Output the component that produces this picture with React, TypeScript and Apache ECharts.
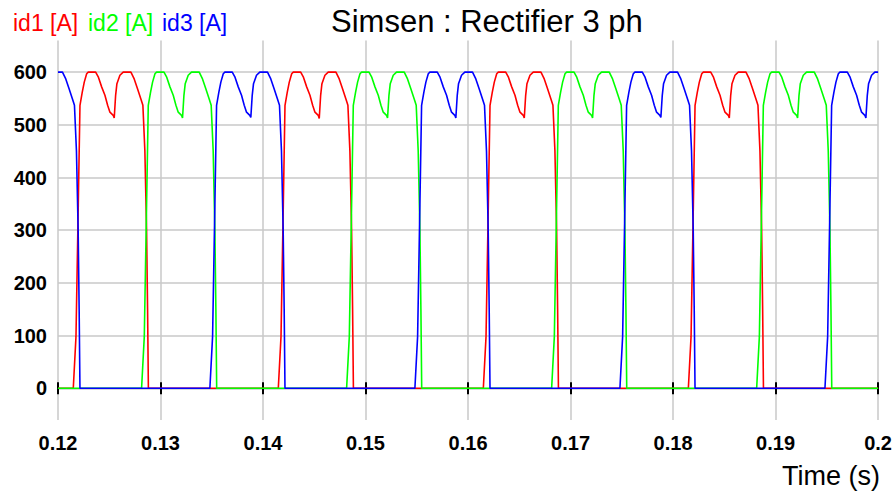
import { useEffect, useRef } from "react";
import * as echarts from "echarts";

const chartTitle = "Simsen : Rectifier 3 ph";
const xAxisName = "Time (s)";
const seriesNames = ["id1 [A]", "id2 [A]", "id3 [A]"];
const seriesColors = ["#ff0000", "#00ff00", "#0000ff"];
const yTickValues = [0, 100, 200, 300, 400, 500, 600];

// [time (s), current (A)]
const id1: number[][] = [
  [0.12, 0],
  [0.121491, 0], [0.121754, 98], [0.121978, 348], [0.122143, 537], [0.122367, 562], [0.122562, 581], [0.122796, 597], [0.122952, 600], [0.123673, 600], [0.123926, 591], [0.124257, 572], [0.124578, 556], [0.124841, 537], [0.125066, 524], [0.125387, 518], [0.125484, 513], [0.125621, 556], [0.125747, 578], [0.12604, 594], [0.126361, 600], [0.127111, 600], [0.127433, 587], [0.127764, 568], [0.128085, 549], [0.12828, 537], [0.128475, 450], [0.128641, 300], [0.128738, 150], [0.128816, 0],
  [0.141491, 0], [0.141754, 98], [0.141978, 348], [0.142143, 537], [0.142367, 562], [0.142562, 581], [0.142796, 597], [0.142952, 600], [0.143673, 600], [0.143926, 591], [0.144257, 572], [0.144578, 556], [0.144841, 537], [0.145066, 524], [0.145387, 518], [0.145484, 512], [0.145621, 556], [0.145747, 578], [0.14604, 594], [0.146361, 600], [0.147111, 600], [0.147433, 587], [0.147764, 568], [0.148085, 549], [0.14828, 537], [0.148475, 450], [0.148641, 300], [0.148738, 150], [0.148816, 0],
  [0.161491, 0], [0.161754, 98], [0.161978, 348], [0.162143, 537], [0.162367, 562], [0.162562, 581], [0.162796, 597], [0.162952, 600], [0.163673, 600], [0.163926, 591], [0.164257, 572], [0.164578, 556], [0.164841, 537], [0.165066, 524], [0.165387, 518], [0.165484, 513], [0.165621, 556], [0.165747, 578], [0.16604, 594], [0.166361, 600], [0.167111, 600], [0.167433, 587], [0.167764, 568], [0.168085, 549], [0.16828, 537], [0.168475, 450], [0.168641, 300], [0.168738, 150], [0.168816, 0],
  [0.181491, 0], [0.181754, 98], [0.181978, 348], [0.182143, 537], [0.182367, 562], [0.182562, 581], [0.182796, 597], [0.182952, 600], [0.183673, 600], [0.183926, 591], [0.184257, 572], [0.184578, 556], [0.184841, 537], [0.185066, 524], [0.185387, 518], [0.185484, 513], [0.185621, 556], [0.185747, 578], [0.18604, 594], [0.186361, 600], [0.187111, 600], [0.187433, 587], [0.187764, 568], [0.188085, 549], [0.18828, 537], [0.188475, 450], [0.188641, 300], [0.188738, 150], [0.188816, 0],
  [0.2, 0],
];

const id2: number[][] = [
  [0.12, 0],
  [0.128154, 0], [0.128417, 98], [0.128641, 348], [0.128806, 537], [0.12903, 562], [0.129225, 581], [0.129459, 597], [0.129615, 600], [0.130336, 600], [0.130589, 591], [0.13092, 572], [0.131241, 556], [0.131504, 537], [0.131729, 524], [0.13205, 518], [0.132147, 513], [0.132284, 556], [0.13241, 578], [0.132703, 594], [0.133024, 600], [0.133774, 600], [0.134096, 587], [0.134427, 568], [0.134748, 549], [0.134943, 537], [0.135138, 450], [0.135304, 300], [0.135401, 150], [0.135479, 0],
  [0.148154, 0], [0.148417, 98], [0.148641, 348], [0.148806, 537], [0.14903, 562], [0.149225, 581], [0.149459, 597], [0.149615, 600], [0.150336, 600], [0.150589, 591], [0.15092, 572], [0.151241, 556], [0.151504, 537], [0.151729, 524], [0.15205, 518], [0.152147, 513], [0.152284, 556], [0.15241, 578], [0.152703, 594], [0.153024, 600], [0.153774, 600], [0.154096, 587], [0.154427, 568], [0.154748, 549], [0.154943, 537], [0.155138, 450], [0.155304, 300], [0.155401, 150], [0.155479, 0],
  [0.168154, 0], [0.168417, 98], [0.168641, 348], [0.168806, 537], [0.16903, 562], [0.169225, 581], [0.169459, 597], [0.169615, 600], [0.170336, 600], [0.170589, 591], [0.17092, 572], [0.171241, 556], [0.171504, 537], [0.171729, 524], [0.17205, 518], [0.172147, 513], [0.172284, 556], [0.17241, 578], [0.172703, 594], [0.173024, 600], [0.173774, 600], [0.174096, 587], [0.174427, 568], [0.174748, 549], [0.174943, 537], [0.175138, 450], [0.175304, 300], [0.175401, 150], [0.175479, 0],
  [0.188154, 0], [0.188417, 98], [0.188641, 348], [0.188806, 537], [0.18903, 562], [0.189225, 581], [0.189459, 597], [0.189615, 600], [0.190336, 600], [0.190589, 591], [0.19092, 572], [0.191241, 556], [0.191504, 537], [0.191729, 524], [0.19205, 518], [0.192147, 513], [0.192284, 556], [0.19241, 578], [0.192703, 594], [0.193024, 600], [0.193774, 600], [0.194096, 587], [0.194427, 568], [0.194748, 549], [0.194943, 537], [0.195138, 450], [0.195304, 300], [0.195401, 150], [0.195479, 0],
  [0.2, 0],
];

const id3: number[][] = [
  [0.12, 600], [0.120436, 600], [0.120758, 587], [0.121089, 568], [0.12141, 549], [0.121605, 537], [0.1218, 450], [0.121966, 300], [0.122063, 150], [0.122141, 0],
  [0.134816, 0], [0.135079, 98], [0.135303, 348], [0.135468, 537], [0.135692, 562], [0.135887, 581], [0.136121, 597], [0.136277, 600], [0.136998, 600], [0.137251, 591], [0.137582, 572], [0.137903, 556], [0.138166, 537], [0.138391, 524], [0.138712, 518], [0.138809, 514], [0.138946, 556], [0.139072, 578], [0.139365, 594], [0.139686, 600], [0.140436, 600], [0.140758, 587], [0.141089, 568], [0.14141, 549], [0.141605, 537], [0.1418, 450], [0.141966, 300], [0.142063, 150], [0.142141, 0],
  [0.154816, 0], [0.155079, 98], [0.155303, 348], [0.155468, 537], [0.155692, 562], [0.155887, 581], [0.156121, 597], [0.156277, 600], [0.156998, 600], [0.157251, 591], [0.157582, 572], [0.157903, 556], [0.158166, 537], [0.158391, 524], [0.158712, 518], [0.158809, 513], [0.158946, 556], [0.159072, 578], [0.159365, 594], [0.159686, 600], [0.160436, 600], [0.160758, 587], [0.161089, 568], [0.16141, 549], [0.161605, 537], [0.1618, 450], [0.161966, 300], [0.162063, 150], [0.162141, 0],
  [0.174816, 0], [0.175079, 98], [0.175303, 348], [0.175468, 537], [0.175692, 562], [0.175887, 581], [0.176121, 597], [0.176277, 600], [0.176998, 600], [0.177251, 591], [0.177582, 572], [0.177903, 556], [0.178166, 537], [0.178391, 524], [0.178712, 518], [0.178809, 514], [0.178946, 556], [0.179072, 578], [0.179365, 594], [0.179686, 600], [0.180436, 600], [0.180758, 587], [0.181089, 568], [0.18141, 549], [0.181605, 537], [0.1818, 450], [0.181966, 300], [0.182063, 150], [0.182141, 0],
  [0.194816, 0], [0.195079, 98], [0.195303, 348], [0.195468, 537], [0.195692, 562], [0.195887, 581], [0.196121, 597], [0.196277, 600], [0.196998, 600], [0.197251, 591], [0.197582, 572], [0.197903, 556], [0.198166, 537], [0.198391, 524], [0.198712, 518], [0.198809, 513], [0.198946, 556], [0.199072, 578], [0.199365, 594], [0.199686, 600], [0.2, 600],
];

const seriesData = [id1, id2, id3];

export default function App() {
  const ref = useRef<HTMLDivElement>(null);

  useEffect(() => {
    if (!ref.current) return;
    const chart = echarts.init(ref.current, null, { renderer: "svg" });
    const font = "'Liberation Sans', Arial, sans-serif";
    const gridColor = "#c8c8c8";
    const legendX = [13, 88, 162];

    chart.setOption({
      animation: false,
      backgroundColor: "#ffffff",
      textStyle: { fontFamily: font },
      title: {
        text: chartTitle,
        left: 326,
        top: 1,
        textStyle: { fontSize: 31, fontWeight: "normal", color: "#000", fontFamily: font },
      },
      graphic: [
        ...seriesNames.map((name, i) => ({
          type: "text",
          left: legendX[i],
          top: 11,
          style: { text: name, fill: seriesColors[i], font: `23px ${font}` },
        })),
        {
          type: "text",
          right: 15,
          top: 462,
          style: { text: xAxisName, fill: "#000", font: `27px ${font}` },
        },
      ],
      grid: { left: 58, right: 15.7, top: 40.5, bottom: 72.1, containLabel: false },
      xAxis: [
        {
          type: "value",
          min: 0.12,
          max: 0.2,
          interval: 0.01,
          position: "bottom",
          axisLine: { show: true, onZero: true, onZeroAxisIndex: 0, lineStyle: { color: "#000", width: 1 } },
          axisTick: { show: true, length: 6, lineStyle: { color: "#000", width: 2 } },
          axisLabel: { margin: 13, fontSize: 20, fontWeight: "bold", color: "#000", fontFamily: font },
          splitLine: { show: true, lineStyle: { color: gridColor, width: 1.5 } },
        },
        {
          type: "value",
          min: 0.12,
          max: 0.2,
          interval: 0.01,
          position: "top",
          axisLine: { show: true, onZero: true, onZeroAxisIndex: 0, lineStyle: { color: "#000", width: 1 } },
          axisTick: { show: true, length: 6, lineStyle: { color: "#000", width: 2 } },
          axisLabel: { show: false },
          splitLine: { show: false },
        },
      ],
      yAxis: {
        type: "value",
        min: -60,
        max: 660,
        axisLine: { show: false },
        axisTick: { show: false, customValues: yTickValues },
        axisLabel: {
          customValues: yTickValues,
          margin: 11,
          fontSize: 20,
          fontWeight: "bold",
          color: "#000",
          fontFamily: font,
        },
        splitLine: { show: true, lineStyle: { color: gridColor, width: 1.5 } },
      },
      series: seriesData.map((d, i) => ({
        name: seriesNames[i],
        type: "line",
        data: d,
        showSymbol: false,
        symbol: "none",
        color: seriesColors[i],
        lineStyle: { color: seriesColors[i], width: 1.6 },
        z: 3 + i,
      })),
    });

    return () => chart.dispose();
  }, []);

  return <div ref={ref} style={{ position: "fixed", left: 0, top: 0, width: 895, height: 492 }} />;
}
